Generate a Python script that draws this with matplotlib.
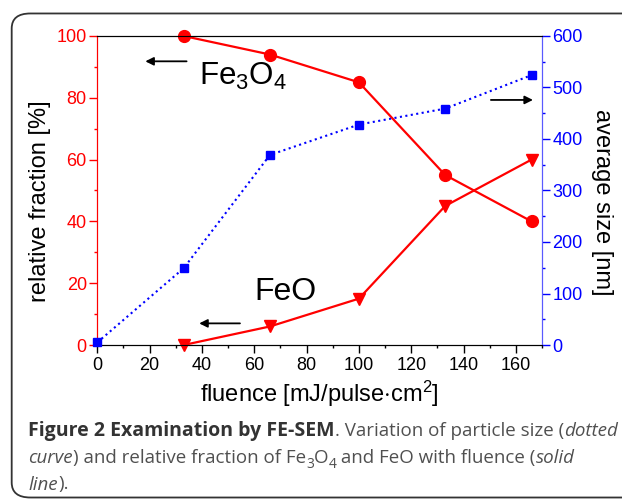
import matplotlib
matplotlib.use("Agg")
import matplotlib.pyplot as plt
from matplotlib.patches import FancyBboxPatch
from matplotlib.transforms import offset_copy

plt.rcParams['font.family'] = ['Liberation Sans', 'DejaVu Sans']
plt.rcParams['mathtext.fontset'] = 'custom'
plt.rcParams['mathtext.rm'] = 'Liberation Sans'
plt.rcParams['mathtext.it'] = 'Liberation Sans:italic'

fluence = [33, 66, 100, 133, 166]
fe3o4 = [100, 94, 85, 55, 40]
feo = [0, 6, 15, 45, 60]
size_fluence = [0, 33, 66, 100, 133, 166]
avg_size = [5, 149, 369, 428, 459, 524]

red = '#ff0000'
blue = '#0000ff'

fig = plt.figure(figsize=(6.22, 4.99), dpi=100)

# rounded frame around figure + caption
frame = FancyBboxPatch((0.0188, 0.003), 1.05, 0.970, boxstyle="round,pad=0,rounding_size=0.03",
                       transform=fig.transFigure, facecolor='none', edgecolor='#333333', lw=1.3)
fig.patches.append(frame)

ax = fig.add_axes([0.1564, 0.3086, 0.715, 0.6193])
ax2 = ax.twinx()

ax.plot(fluence, fe3o4, color=red, marker='o', ms=8.5, lw=1.6, clip_on=False, zorder=3)
ax.plot(fluence, feo, color=red, marker='v', ms=9, lw=1.6, clip_on=False, zorder=3)
ax2.plot(size_fluence, avg_size, color=blue, marker='s', ms=6, lw=1.5, ls=':', clip_on=False, zorder=3)

ax.set_xlim(0, 170)
ax.set_ylim(0, 100)
ax2.set_ylim(0, 600)

ax.set_xticks(range(0, 161, 20))
ax.set_xticks(range(10, 171, 20), minor=True)
ax.set_yticks(range(0, 101, 20))
ax.set_yticks(range(10, 100, 20), minor=True)
ax2.set_yticks(range(0, 601, 100))
ax2.set_yticks(range(50, 600, 100), minor=True)

ax.tick_params(axis='x', which='both', direction='out', colors='black', labelsize=13, pad=3)
ax.tick_params(axis='y', which='both', direction='out', colors=red, labelsize=13, pad=2)
ax2.tick_params(axis='y', which='both', direction='out', colors=blue, labelsize=13, pad=2)
for a in (ax, ax2):
    a.tick_params(which='major', length=5.5, width=1)
    a.tick_params(which='minor', length=2.5, width=1)
    a.spines['left'].set_color(red)
    a.spines['right'].set_color('#5a5aff')
    a.spines['top'].set_color('black')
    a.spines['bottom'].set_color('black')

ax.set_xlabel('fluence [mJ/pulse$\\cdot$cm$^2$]', fontsize=17)
ax.xaxis.set_label_coords(0.5, -0.108)
ax.set_ylabel('relative fraction [%]', fontsize=17, va='center', ha='center', rotation_mode='anchor')
ax.yaxis.set_label_coords(-0.129, 0.466)
ax2.set_ylabel('average size [nm]', fontsize=17, rotation=-90, va='center', ha='center',
               rotation_mode='anchor')
ax2.yaxis.set_label_coords(1.135, 0.461)

# annotations
arrow = dict(arrowstyle='-|>', color='black', lw=1.3, mutation_scale=12)
ax.annotate('', xy=(17.3, 91.8), xytext=(35.2, 91.8), arrowprops=arrow)
ax.annotate('', xy=(37.9, 7.0), xytext=(55.6, 7.0), arrowprops=arrow)
ax.annotate('', xy=(167.6, 79.3), xytext=(149.4, 79.3), arrowprops=arrow)
ax.text(38.7, 87, 'Fe$_3$O$_4$', fontsize=22.5, va='center', ha='left')
ax.text(72.1, 17, 'FeO', fontsize=23, va='center', ha='center')

# caption
cap_font = ['Open Sans', 'DejaVu Sans']
fig.canvas.draw()
renderer = fig.canvas.get_renderer()


def runs(x, y, parts):
    for txt, kw in parts:
        style = dict(fontsize=13.5, family=cap_font, color='#505050', va='baseline')
        style.update(kw)
        dy = style.pop('dy', 0)
        tr = offset_copy(fig.transFigure, fig=fig, x=0, y=dy, units='points')
        t = fig.text(x, y, txt, transform=tr, **style)
        bb = t.get_window_extent(renderer)
        x += bb.width / fig.bbox.width


nb = '\u00a0'
bold = dict(weight='bold', color='#333333', fontsize=14)
it = dict(style='italic')
sub = dict(fontsize=10, dy=-3.5)
x0 = 0.0455

runs(x0, 1 - 436 / 499, [(f'Figure{nb}2{nb}Examination{nb}by{nb}FE-SEM', bold),
                         (f'.{nb}Variation{nb}of{nb}particle{nb}size{nb}(', {}),
                         ('dotted', it)])
runs(x0, 1 - 462.7 / 499, [('curve', it),
                           (f'){nb}and{nb}relative{nb}fraction{nb}of{nb}Fe', {}),
                           ('3', sub), ('O', {}), ('4', sub),
                           (f'{nb}and{nb}FeO{nb}with{nb}fluence{nb}(', {}),
                           ('solid', it)])
runs(x0, 1 - 489.5 / 499, [('line', it), (').', {})])

fig.savefig('out.png', dpi=100)
